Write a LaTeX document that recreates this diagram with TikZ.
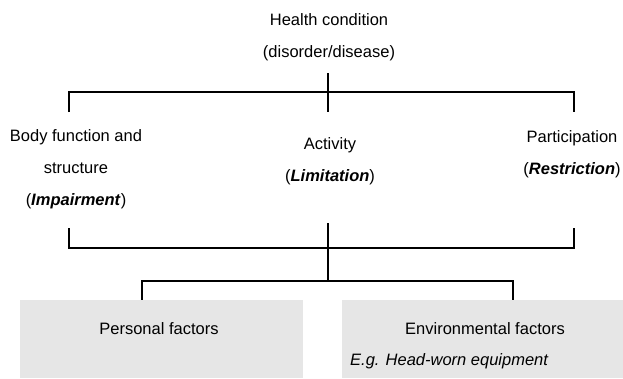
\documentclass[tikz,border=0pt]{standalone}
\usepackage{fontspec}
\setmainfont{Liberation Sans}
\definecolor{boxgray}{RGB}{230,230,230}
\begin{document}
\begin{tikzpicture}[x=1pt,y=-1pt,
  lbl/.style={font=\fontsize{16.5}{32}\selectfont, align=center, inner sep=0pt},
  link/.style={draw=black, line width=1.8pt},
  factor/.style={fill=boxgray, draw=none, inner sep=0pt}]
\useasboundingbox (0,0) rectangle (623,378);
% texts
\node[lbl] (hc) at (329,37) {Health condition\\(disorder/disease)};
\node[lbl] (bf) at (76,169) {Body function and\\structure\\(\textbf{\textit{Impairment}})};
\node[lbl] (ac) at (330,161.5) {Activity\\(\textbf{\textit{Limitation}})};
\node[lbl] (pa) at (572,154.5) {Participation\\(\textbf{\textit{Restriction}})};
% boxes
\node[factor, minimum width=283pt, minimum height=78pt] (pf) at (161.5,339) {};
\node[factor, minimum width=281pt, minimum height=78pt] (ef) at (482.5,339) {};
\node[lbl] (pft) at (159,329) {Personal factors};
\node[lbl] (eft) at (485,329) {Environmental factors};
\node[lbl, anchor=west] (eg) at (350,361) {\textit{E.g. Head-worn equipment}};
% coordinates
\coordinate (ta) at (328,73);
\coordinate (tb) at (328,112);
\coordinate (tl) at (69,112);
\coordinate (tr) at (574,112);
\coordinate (ua) at (328,223);
\coordinate (ub) at (328,281);
\coordinate (ul) at (69,228);
\coordinate (ur) at (574,228);
\coordinate (bl) at (142,281);
\coordinate (br) at (513,281);
% upper bracket
\draw[link] (ta) -- (tb);
\draw[link] (tl) -- (tl |- 0,92) -- (tr |- 0,92) -- (tr);
% lower bracket
\draw[link] (ul) -- (ul |- 0,248) -- (ur |- 0,248) -- (ur);
\draw[link] (ua) -- (ub);
\draw[link] (bl |- pf.north) -- (bl) -- (br) -- (br |- ef.north);
\end{tikzpicture}
\end{document}
